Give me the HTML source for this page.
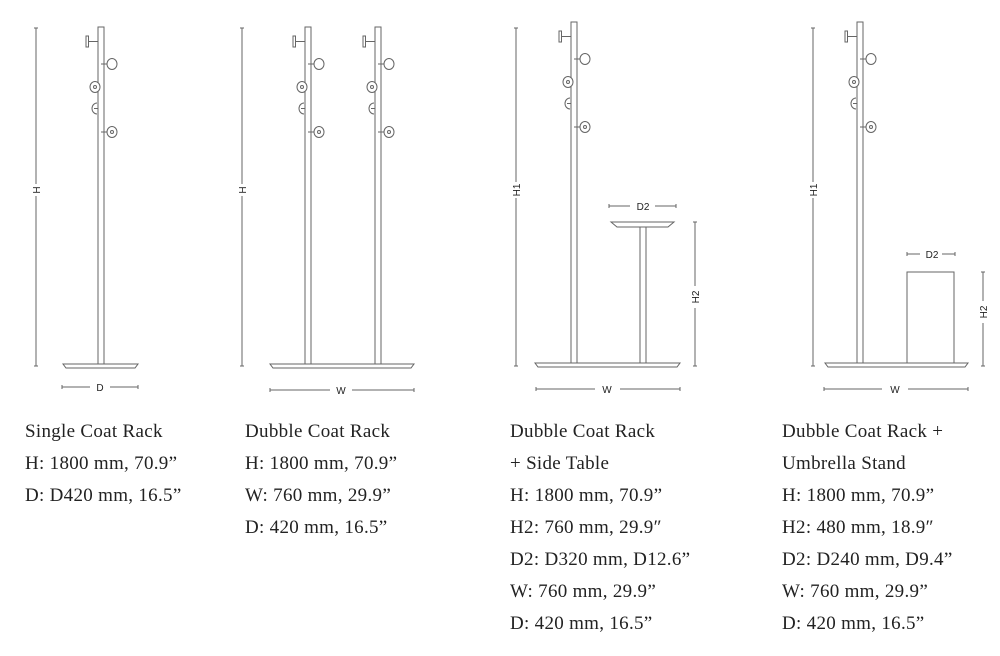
<!DOCTYPE html>
<html><head><meta charset="utf-8"><style>
body{margin:0;background:#fff;width:1000px;height:656px;overflow:hidden;position:relative;font-family:"Liberation Serif",serif;}
.t{position:absolute;font-size:19px;color:#222;line-height:32px;letter-spacing:0.3px;}
svg{position:absolute;left:0;top:0}
svg text{font-size:10px;fill:#222}
</style></head><body>
<svg width="1000" height="656" viewBox="0 0 1000 656" fill="none" stroke="#666" stroke-width="1">
<defs>
<g id="hk">
 <rect x="-12" y="9" width="2.5" height="11" fill="#fff"/>
 <line x1="-9.5" y1="14.5" x2="0" y2="14.5"/>
 <line x1="3" y1="37" x2="9" y2="37"/>
 <ellipse cx="14" cy="37" rx="5" ry="5.5" fill="#fff"/>
 <ellipse cx="-3" cy="60" rx="5" ry="5.5" fill="#fff"/>
 <circle cx="-3" cy="60" r="1.5"/>
 <path d="M-1 76 A5 5.5 0 1 0 -1 87"/>
 <line x1="-4" y1="81.5" x2="0" y2="81.5"/>
 <line x1="3" y1="105" x2="9" y2="105"/>
 <ellipse cx="14" cy="105" rx="5" ry="5.5" fill="#fff"/>
 <circle cx="14" cy="105" r="1.5"/>
</g>
</defs>
<line x1="36" y1="28" x2="36" y2="366"/><line x1="34" y1="28" x2="38" y2="28"/><line x1="34" y1="366" x2="38" y2="366"/>
<rect x="30" y="184" width="12" height="12" fill="#fff" stroke="none"/>
<text x="40" y="190" transform="rotate(-90 40 190)" font-family="Liberation Sans" stroke="none" text-anchor="middle">H</text>
<rect x="98" y="27" width="6" height="337" fill="#fff"/>
<g transform="translate(98,27)"><use href="#hk"/></g>
<path d="M63 364 H138 L135 368 H66 Z" fill="#fff"/>
<line x1="62" y1="387" x2="90" y2="387"/><line x1="110" y1="387" x2="138" y2="387"/><line x1="62" y1="385" x2="62" y2="389"/><line x1="138" y1="385" x2="138" y2="389"/>
<text x="100" y="391" font-family="Liberation Sans" stroke="none" text-anchor="middle">D</text>
<line x1="242" y1="28" x2="242" y2="366"/><line x1="240" y1="28" x2="244" y2="28"/><line x1="240" y1="366" x2="244" y2="366"/>
<rect x="236" y="184" width="12" height="12" fill="#fff" stroke="none"/>
<text x="246" y="190" transform="rotate(-90 246 190)" font-family="Liberation Sans" stroke="none" text-anchor="middle">H</text>
<rect x="305" y="27" width="6" height="337" fill="#fff"/>
<rect x="375" y="27" width="6" height="337" fill="#fff"/>
<g transform="translate(305,27)"><use href="#hk"/></g>
<g transform="translate(375,27)"><use href="#hk"/></g>
<path d="M270 364 H414 L411 368 H273 Z" fill="#fff"/>
<line x1="270" y1="390" x2="330" y2="390"/><line x1="352" y1="390" x2="414" y2="390"/><line x1="270" y1="388" x2="270" y2="392"/><line x1="414" y1="388" x2="414" y2="392"/>
<text x="341" y="394" font-family="Liberation Sans" stroke="none" text-anchor="middle">W</text>
<line x1="516" y1="28" x2="516" y2="366"/><line x1="514" y1="28" x2="518" y2="28"/><line x1="514" y1="366" x2="518" y2="366"/>
<rect x="510" y="182" width="12" height="16" fill="#fff" stroke="none"/>
<text x="520" y="190" transform="rotate(-90 520 190)" font-family="Liberation Sans" stroke="none" text-anchor="middle">H1</text>
<rect x="571" y="22" width="6" height="342" fill="#fff"/>
<g transform="translate(571,22)"><use href="#hk"/></g>
<rect x="640" y="227" width="6" height="137" fill="#fff"/>
<path d="M611 222 H674 L668 227 H617 Z" fill="#fff"/>
<line x1="609" y1="206" x2="630" y2="206"/><line x1="655" y1="206" x2="676" y2="206"/><line x1="609" y1="204" x2="609" y2="208"/><line x1="676" y1="204" x2="676" y2="208"/>
<text x="643" y="210" font-family="Liberation Sans" stroke="none" text-anchor="middle">D2</text>
<line x1="695" y1="222" x2="695" y2="286"/><line x1="695" y1="308" x2="695" y2="366"/><line x1="693" y1="222" x2="697" y2="222"/><line x1="693" y1="366" x2="697" y2="366"/>
<text x="699" y="297" transform="rotate(-90 699 297)" font-family="Liberation Sans" stroke="none" text-anchor="middle">H2</text>
<path d="M535 363 H680 L677 367 H538 Z" fill="#fff"/>
<line x1="536" y1="389" x2="595" y2="389"/><line x1="620" y1="389" x2="680" y2="389"/><line x1="536" y1="387" x2="536" y2="391"/><line x1="680" y1="387" x2="680" y2="391"/>
<text x="607" y="393" font-family="Liberation Sans" stroke="none" text-anchor="middle">W</text>
<line x1="813" y1="28" x2="813" y2="366"/><line x1="811" y1="28" x2="815" y2="28"/><line x1="811" y1="366" x2="815" y2="366"/>
<rect x="807" y="182" width="12" height="16" fill="#fff" stroke="none"/>
<text x="817" y="190" transform="rotate(-90 817 190)" font-family="Liberation Sans" stroke="none" text-anchor="middle">H1</text>
<rect x="857" y="22" width="6" height="342" fill="#fff"/>
<g transform="translate(857,22)"><use href="#hk"/></g>
<rect x="907" y="272" width="47" height="91" fill="#fff"/>
<line x1="907" y1="254" x2="920" y2="254"/><line x1="942" y1="254" x2="955" y2="254"/><line x1="907" y1="252" x2="907" y2="256"/><line x1="955" y1="252" x2="955" y2="256"/>
<text x="932" y="258" font-family="Liberation Sans" stroke="none" text-anchor="middle">D2</text>
<line x1="983" y1="272" x2="983" y2="301"/><line x1="983" y1="323" x2="983" y2="366"/><line x1="981" y1="272" x2="985" y2="272"/><line x1="981" y1="366" x2="985" y2="366"/>
<text x="987" y="312" transform="rotate(-90 987 312)" font-family="Liberation Sans" stroke="none" text-anchor="middle">H2</text>
<path d="M825 363 H968 L965 367 H828 Z" fill="#fff"/>
<line x1="824" y1="389" x2="882" y2="389"/><line x1="908" y1="389" x2="968" y2="389"/><line x1="824" y1="387" x2="824" y2="391"/><line x1="968" y1="387" x2="968" y2="391"/>
<text x="895" y="393" font-family="Liberation Sans" stroke="none" text-anchor="middle">W</text>
</svg>
<div class="t" style="left:25px;top:416px">Single Coat Rack<br>H: 1800 mm, 70.9”<br>D: D420 mm, 16.5”</div>
<div class="t" style="left:245px;top:416px">Dubble Coat Rack<br>H: 1800 mm, 70.9”<br>W: 760 mm, 29.9”<br>D: 420 mm, 16.5”</div>
<div class="t" style="left:510px;top:416px">Dubble Coat Rack<br>+ Side Table<br>H: 1800 mm, 70.9”<br>H2: 760 mm, 29.9″<br>D2: D320 mm, D12.6”<br>W: 760 mm, 29.9”<br>D: 420 mm, 16.5”</div>
<div class="t" style="left:782px;top:416px">Dubble Coat Rack +<br>Umbrella Stand<br>H: 1800 mm, 70.9”<br>H2: 480 mm, 18.9″<br>D2: D240 mm, D9.4”<br>W: 760 mm, 29.9”<br>D: 420 mm, 16.5”</div>
</body></html>
